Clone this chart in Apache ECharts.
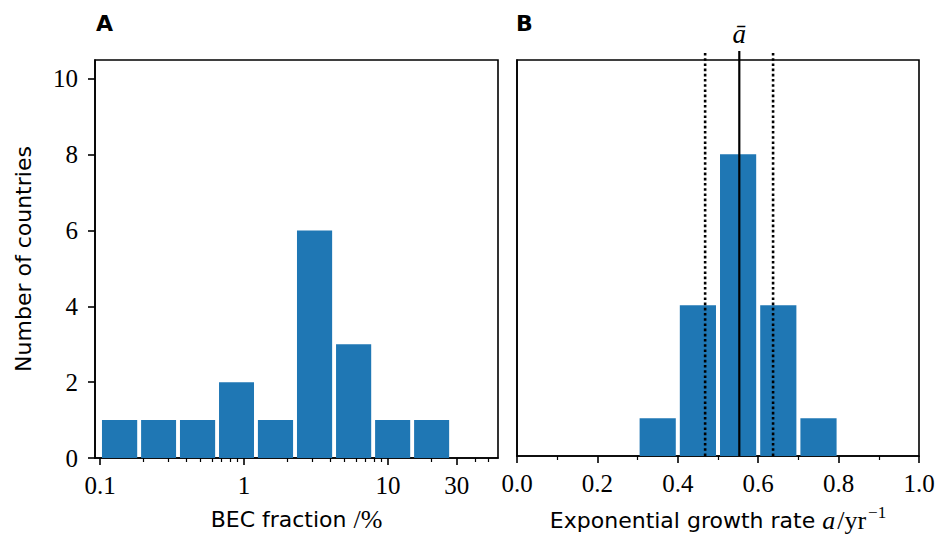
<!DOCTYPE html>
<html lang="en">
<head>
    <meta charset="UTF-8">
    <title>BEC fraction and growth rate</title>
    <script src="https://cdn.jsdelivr.net/npm/echarts@6/dist/echarts.min.js"></script>
    <style>
        html, body { margin: 0; padding: 0; background: #fff; }
    </style>
</head>
<body>
<div id="main" style="width: 943px;height:538px;"></div>
<script type="text/javascript">
    // panel A: histogram over log-spaced bins of BEC fraction (%)
    var becBinEdges = [0.1, 0.187, 0.348, 0.65, 1.21, 2.26, 4.22, 7.88, 14.7, 27.4];
    var becCounts = [1, 1, 1, 2, 1, 6, 3, 1, 1];
    var becMajorTicks = [0.1, 1, 10, 30];
    var becMinorTicks = [0.2, 0.3, 0.4, 0.5, 0.6, 0.7, 0.8, 0.9, 2, 3, 4, 5, 6, 7, 8, 9, 20, 40, 50];

    // panel B: histogram of exponential growth rate a (1/yr)
    var rateBinEdges = [0.3, 0.4, 0.5, 0.6, 0.7, 0.8];
    var rateCounts = [1, 4, 8, 4, 1];
    var rateMajorTicks = [0, 0.2, 0.4, 0.6, 0.8, 1.0];
    var rateMinorTicks = [0.1, 0.3, 0.5, 0.7, 0.9];
    var rateMean = 0.553;
    var rateLow = 0.468;
    var rateHigh = 0.637;

    var countTicks = [0, 2, 4, 6, 8, 10];

    var SERIF = '"Liberation Serif", serif';
    var SANS = '"DejaVu Sans", sans-serif';
    var BLUE = '#1f77b4';

    function toBins(edges, counts) {
        var rows = [];
        for (var i = 0; i < counts.length; i++) {
            rows.push([edges[i], edges[i + 1], counts[i]]);
        }
        return rows;
    }

    // one bar per bin, 90% of the bin width
    function renderBin(params, api) {
        var lo = api.coord([api.value(0), 0]);
        var hi = api.coord([api.value(1), api.value(2)]);
        var w = hi[0] - lo[0];
        return {
            type: 'rect',
            shape: {x: lo[0] + w * 0.05, y: hi[1], width: w * 0.9, height: lo[1] - hi[1]},
            style: {fill: BLUE}
        };
    }

    function renderMark(params, api) {
        var bottom = api.coord([api.value(0), 0]);
        var top = api.coord([api.value(0), 10.5]);
        var dotted = api.value(1) === 1;
        return {
            type: 'line',
            shape: {x1: bottom[0], y1: bottom[1], x2: top[0], y2: top[1] - 9},
            style: {stroke: '#000', lineWidth: dotted ? 2.6 : 2.2, lineDash: dotted ? [2.6, 2.6] : null}
        };
    }

    function majorAxis(grid, type, min, max, ticks, fmt, name) {
        return {
            type: type, gridIndex: grid, min: min, max: max, position: 'bottom',
            name: name, nameLocation: 'middle', nameGap: 48,
            nameTextStyle: {
                fontFamily: SANS, fontSize: 22, color: '#000',
                rich: {
                    s: {fontFamily: SANS, fontSize: 22, color: '#000'},
                    m: {fontFamily: SERIF, fontSize: 26, color: '#000'},
                    i: {fontFamily: SERIF, fontSize: 26, fontStyle: 'italic', color: '#000', padding: [0, 2, 0, 0]},
                    sup: {fontFamily: SERIF, fontSize: 17, color: '#000', padding: [0, 0, 15, 2]}
                }
            },
            axisLine: {show: true, lineStyle: {color: '#000', width: 1.6}},
            axisTick: {show: true, length: 7, customValues: ticks, lineStyle: {color: '#000', width: 1.6}},
            axisLabel: {customValues: ticks, formatter: fmt, margin: 15,
                fontFamily: SERIF, fontSize: 25, color: '#000'},
            splitLine: {show: false}
        };
    }

    function minorAxis(grid, type, min, max, ticks) {
        return {
            type: type, gridIndex: grid, min: min, max: max, position: 'bottom',
            axisLine: {show: false},
            axisTick: {show: true, length: 4, customValues: ticks, lineStyle: {color: '#000', width: 1.2}},
            axisLabel: {show: false},
            splitLine: {show: false}
        };
    }

    var myChart = echarts.init(document.getElementById('main'), null, {renderer: 'svg'});

    myChart.setOption({
        animation: false,
        backgroundColor: '#fff',
        grid: [
            {left: 95, top: 60, width: 403, height: 398, show: true, borderColor: '#000', borderWidth: 1.6},
            {left: 517, top: 60, width: 402, height: 398, show: true, borderColor: '#000', borderWidth: 1.6}
        ],
        graphic: [
            {type: 'text', left: 96, top: 12, style: {text: 'A', fontFamily: SANS, fontWeight: 'bold', fontSize: 22, fill: '#000'}},
            {type: 'text', left: 516, top: 12, style: {text: 'B', fontFamily: SANS, fontWeight: 'bold', fontSize: 22, fill: '#000'}}
        ],
        xAxis: [
            majorAxis(0, 'log', 0.0923, 58, becMajorTicks, function (v) {
                return String(Math.round(v * 10) / 10);
            }, '{s|BEC fraction }{m|/%}'),
            minorAxis(0, 'log', 0.0923, 58, becMinorTicks),
            majorAxis(1, 'value', 0, 1, rateMajorTicks, function (v) {
                return v.toFixed(1);
            }, '{s|Exponential growth rate }{i|a}{m|/yr}{sup|−1}'),
            minorAxis(1, 'value', 0, 1, rateMinorTicks)
        ],
        yAxis: [
            {
                type: 'value', gridIndex: 0, min: 0, max: 10.5,
                name: 'Number of countries', nameLocation: 'middle', nameGap: 61,
                nameTextStyle: {fontFamily: SANS, fontSize: 22, color: '#000'},
                axisLine: {show: true, lineStyle: {color: '#000', width: 1.6}},
                axisTick: {show: true, length: 7, customValues: countTicks, lineStyle: {color: '#000', width: 1.6}},
                axisLabel: {customValues: countTicks, margin: 17, fontFamily: SERIF, fontSize: 25, color: '#000'},
                splitLine: {show: false}
            },
            {
                type: 'value', gridIndex: 1, min: 0, max: 10.5,
                axisLine: {show: true, lineStyle: {color: '#000', width: 1.6}},
                axisTick: {show: false}, axisLabel: {show: false}, splitLine: {show: false}
            }
        ],
        series: [
            {
                type: 'custom', xAxisIndex: 0, yAxisIndex: 0,
                renderItem: renderBin, encode: {x: [0, 1], y: 2},
                data: toBins(becBinEdges, becCounts)
            },
            {
                type: 'custom', xAxisIndex: 2, yAxisIndex: 1,
                renderItem: renderBin, encode: {x: [0, 1], y: 2},
                data: toBins(rateBinEdges, rateCounts)
            },
            {
                type: 'custom', xAxisIndex: 2, yAxisIndex: 1, clip: false, z: 5,
                renderItem: renderMark, encode: {x: 0, y: 1},
                data: [[rateLow, 1], [rateMean, 0], [rateHigh, 1]]
            },
            {
                type: 'custom', xAxisIndex: 2, yAxisIndex: 1, clip: false, z: 5,
                renderItem: function (params, api) {
                    var p = api.coord([api.value(0), 10.5]);
                    return {
                        type: 'text',
                        style: {
                            text: 'ā', x: p[0], y: p[1] - 13,
                            align: 'center', verticalAlign: 'bottom',
                            fontFamily: SERIF, fontStyle: 'italic', fontSize: 27, fill: '#000'
                        }
                    };
                },
                encode: {x: 0, y: 1},
                data: [[rateMean, 0]]
            }
        ]
    });
</script>
</body>
</html>
